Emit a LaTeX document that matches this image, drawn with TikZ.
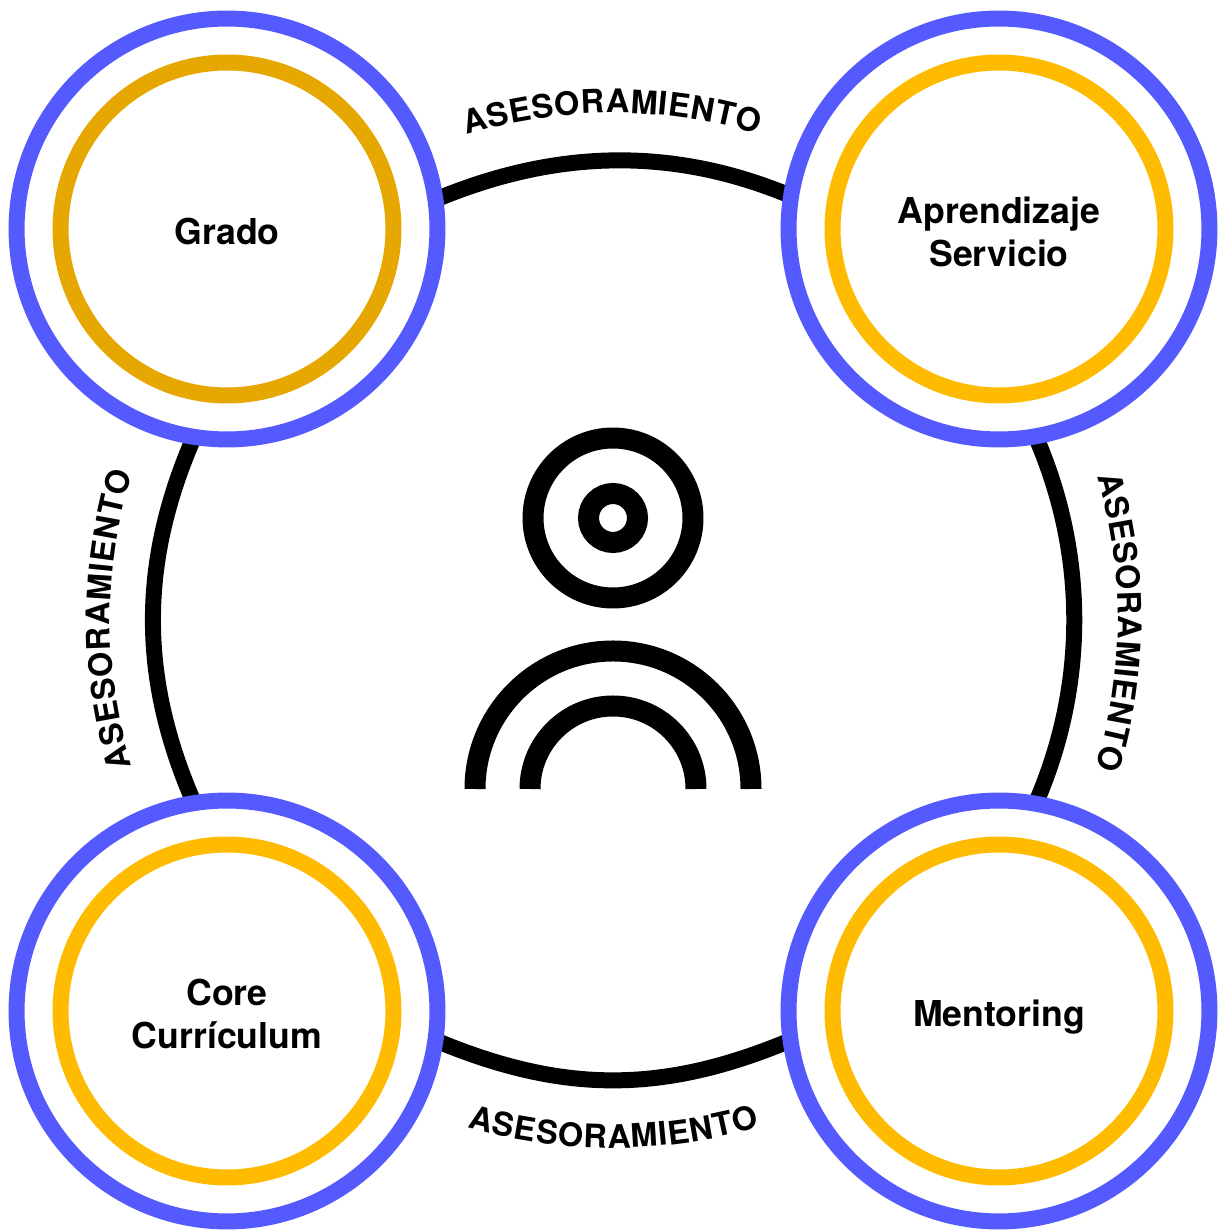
\documentclass[tikz,border=0pt]{standalone}
\usepackage{xcolor}
\usepackage{fontspec}
\setmainfont{TeX Gyre Heros}
\usepackage{tikz}
\usetikzlibrary{calc, decorations.text, backgrounds}
\definecolor{ringblue}{HTML}{555AFF}
\definecolor{ringgold}{HTML}{FFBB00}
\definecolor{ringdark}{HTML}{E6A800}
\newcommand{\arcfont}{\fontsize{18.5}{18.5}\selectfont\bfseries}
\tikzset{
	outerring/.style={circle, draw=ringblue, fill=white, line width=0.32cm, minimum size=8.42cm, inner sep=0pt, outer sep=0pt},
	innerring/.style={circle, draw=#1, line width=0.32cm, minimum size=6.66cm, inner sep=0pt, outer sep=0pt},
	linkarc/.style={black, line width=0.32cm},
	iconline/.style={black, line width=0.42cm},
	ringlabel/.style={yshift=-0.06cm, align=center, font=\fontsize{20.3}{24.9}\selectfont\bfseries},
	arclabel/.style={decorate, decoration={text along path, text={|\arcfont|ASESORAMIENTO}, text align={fit to path}}}
}

\begin{document}
\begin{tikzpicture}[x=0.02cm, y=0.02cm]
		\useasboundingbox (0,0) rectangle (1225,1230);
		\coordinate (hub) at (613,610);
		\pgfmathsetmacro{\tanga}{22.7}
		\pgfmathsetmacro{\tangb}{23.6}
		
		\node[outerring] (gradoring) at (227,1001) {};
		\node[outerring] (aprendizajering) at (999,1001) {};
		\node[outerring] (corering) at (227,219) {};
		\node[outerring] (mentoringring) at (999,219) {};
		
		\node[innerring=ringdark] (gradoinner) at (gradoring) {};
		\node[innerring=ringgold] (aprendizajeinner) at (aprendizajering) {};
		\node[innerring=ringgold] (coreinner) at (corering) {};
		\node[innerring=ringgold] (mentoringinner) at (mentoringring) {};
		
		\node[ringlabel] (grado) at (gradoring) {Grado};
		\node[ringlabel] (aprendizaje) at (aprendizajering) {Aprendizaje\\Servicio};
		\node[ringlabel] (core) at (corering) {Core\\Currículum};
		\node[ringlabel, yshift=-0.06cm] (mentoring) at (mentoringring) {Mentoring};
		
		\begin{scope}[on background layer]
			\draw[linkarc, looseness=0.93] (gradoring.8.8) to[out=\tanga, in=180-\tanga] (aprendizajering.171.2);
			\draw[linkarc, looseness=0.90] (aprendizajering.-80.2) to[out=-90+\tangb, in=90-\tangb] (mentoringring.80.2);
			\draw[linkarc, looseness=1.00] (mentoringring.188.8) to[out=180+\tanga, in=-\tanga] (corering.-8.8);
			\draw[linkarc, looseness=0.96] (corering.99.8) to[out=90+\tangb, in=-90-\tangb] (gradoring.-99.8);
		\end{scope}
		
		\path[arclabel] ([shift={(106.8:507)}]hub) arc[start angle=106.8, end angle=73.4, radius=507];
		\path[arclabel] ([shift={(16.5:505)}]hub) arc[start angle=16.5, end angle=-17, radius=505];
		\path[arclabel] ([shift={(254:528)}]hub) arc[start angle=254, end angle=286.2, radius=528];
		\path[arclabel] ([shift={(196.9:503)}]hub) arc[start angle=196.9, end angle=163, radius=503];
		
		\node[circle, draw=black, line width=0.42cm, minimum size=3.2cm, inner sep=0pt] (headouter) at (613,712) {};
		\node[circle, draw=black, line width=0.42cm, minimum size=0.98cm, inner sep=0pt] (headinner) at (headouter) {};
		
		\draw[iconline] (475,441) arc[start angle=180, end angle=0, radius=138];
		\draw[iconline] (530,441) arc[start angle=180, end angle=0, radius=83];
\end{tikzpicture}
\end{document}
